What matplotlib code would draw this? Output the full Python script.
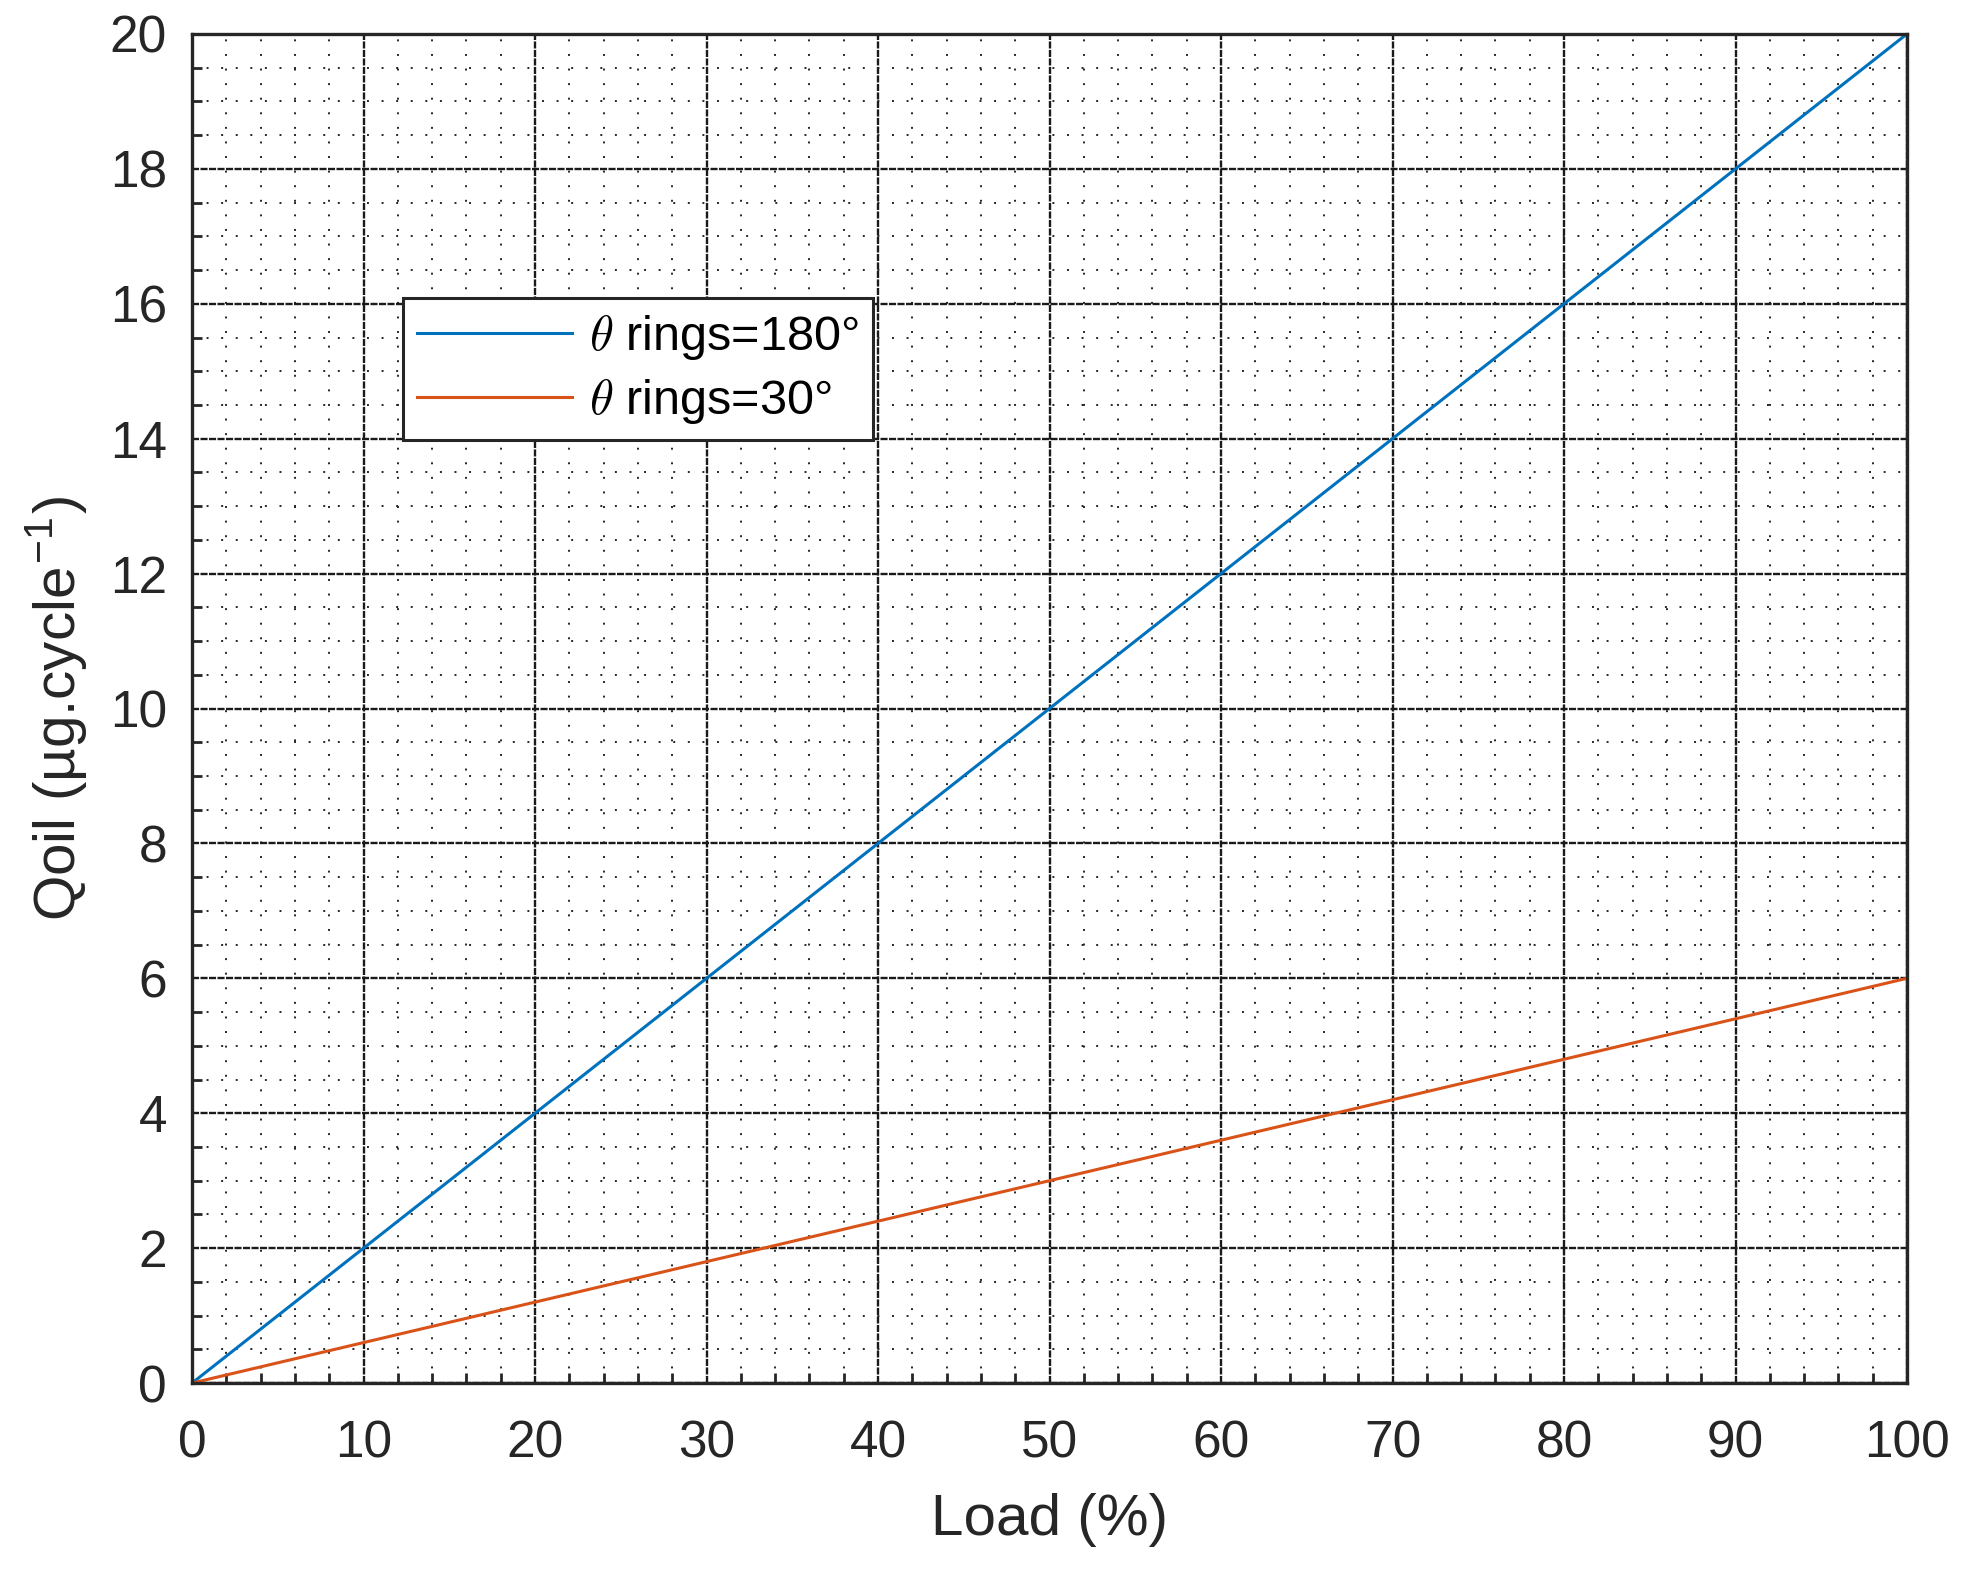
import numpy as np
import matplotlib.pyplot as plt
from matplotlib.ticker import MultipleLocator

# data
load = [0, 10, 20, 30, 40, 50, 60, 70, 80, 90, 100]
q_180 = [0, 2, 4, 6, 8, 10, 12, 14, 16, 18, 20]
q_30 = [0, 0.6, 1.2, 1.8, 2.4, 3.0, 3.6, 4.2, 4.8, 5.4, 6.0]
labels = [r"$\theta$ rings=180°", r"$\theta$ rings=30°"]

plt.rcParams["font.family"] = ["Liberation Sans", "DejaVu Sans"]
plt.rcParams["mathtext.fontset"] = "cm"

fig = plt.figure(figsize=(19.68, 15.72), dpi=100)
ax = fig.add_axes([0.0976, 0.1202, 0.9690 - 0.0976, 0.9784 - 0.1202])

ax.plot(load, q_180, color="#0072BD", lw=2.2, label=labels[0])
ax.plot(load, q_30, color="#D95319", lw=2.2, label=labels[1])

ax.set_xlim(0, 100)
ax.set_ylim(0, 20)
ax.xaxis.set_major_locator(MultipleLocator(10))
ax.xaxis.set_minor_locator(MultipleLocator(2))
ax.yaxis.set_major_locator(MultipleLocator(2))
ax.yaxis.set_minor_locator(MultipleLocator(0.5))

# grid
ax.grid(which="major", color="#1a1a1a", lw=1.7, linestyle=(0, (3, 0.6)))
ax.grid(which="minor", color="#262626", lw=1.4, linestyle=(0, (1, 6.5)))
ax.set_axisbelow(True)

ax.tick_params(which="both", direction="in", top=False, right=False,
               colors="#262626")
ax.tick_params(which="major", length=0, width=2, labelsize=37, pad=26)
ax.tick_params(which="minor", length=7, width=2)
ax.tick_params(axis="y", which="major", pad=18)
for s in ax.spines.values():
    s.set_color("#262626")
    s.set_linewidth(2.4)

ax.set_xlabel("Load (%)", fontsize=42, color="#262626", labelpad=18)
ax.set_ylabel("Qoil (µg.cycle$^{\\mathregular{-1}}$)", fontsize=42,
              color="#262626", labelpad=14)

leg = ax.legend(loc="upper left", bbox_to_anchor=(0.1231, 0.8042),
                borderaxespad=0, fontsize=35, handlelength=3.2,
                handletextpad=0.35, borderpad=0.28, labelspacing=0.3,
                fancybox=False, framealpha=1)
leg.get_frame().set_edgecolor("#262626")
leg.get_frame().set_linewidth(2.2)

fig.savefig("out.png", dpi=100)
